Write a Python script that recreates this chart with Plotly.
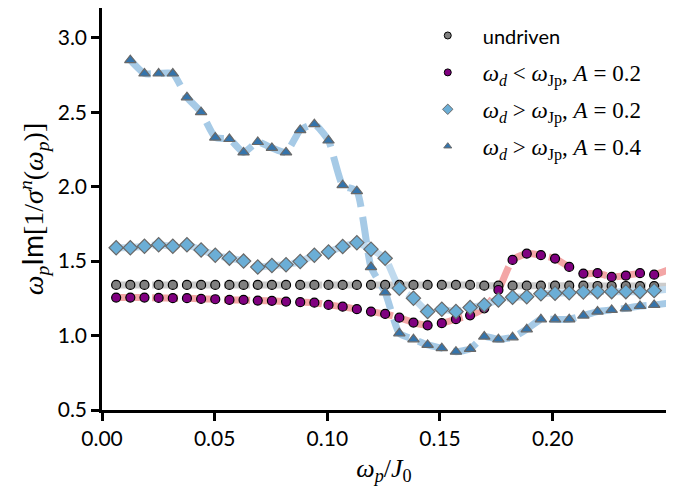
import plotly.graph_objects as go

# omega_p / J0 grid
x_vals = [0.00628, 0.01257, 0.01885, 0.02513, 0.03142, 0.03770, 0.04398, 0.05027,
          0.05655, 0.06283, 0.06912, 0.07540, 0.08168, 0.08796, 0.09425, 0.10053,
          0.10681, 0.11310, 0.11938, 0.12566, 0.13195, 0.13823, 0.14451, 0.15080,
          0.15708, 0.16336, 0.16965, 0.17593, 0.18221, 0.18850, 0.19478, 0.20106,
          0.20735, 0.21363, 0.21991, 0.22619, 0.23248, 0.23876, 0.24504, 0.25133]

undriven = [1.34] * 26 + [1.335, 1.335, 1.335, 1.335, 1.335, 1.335, 1.335, 1.335,
                          1.333, 1.333, 1.333, 1.332, 1.332, 1.331]

below_A02 = [1.255, 1.255, 1.255, 1.253, 1.251, 1.251, 1.246, 1.244, 1.239, 1.239,
             1.235, 1.233, 1.228, 1.224, 1.221, 1.206, 1.194, 1.177, 1.161, 1.145,
             1.120, 1.087, 1.069, 1.083, 1.110, 1.136, 1.183, 1.306, 1.508, 1.550,
             1.540, 1.517, 1.461, 1.416, 1.419, 1.394, 1.403, 1.419, 1.409, 1.441]

above_A02 = [1.59, 1.59, 1.60, 1.61, 1.60, 1.61, 1.575, 1.54, 1.52, 1.50,
             1.46, 1.47, 1.476, 1.497, 1.540, 1.562, 1.598, 1.624, 1.580, 1.519,
             1.318, 1.251, 1.161, 1.177, 1.161, 1.188, 1.206, 1.239, 1.257, 1.261,
             1.280, 1.284, 1.288, 1.293, 1.295, 1.295, 1.295, 1.295, 1.302, 1.311]

x_tri = x_vals[1:]
above_A04 = [2.85, 2.76, 2.76, 2.76, 2.60, 2.50, 2.33, 2.32, 2.23, 2.30, 2.26, 2.23,
             2.38, 2.42, 2.31, 2.01, 1.97, 1.46, 1.29, 1.015, 0.975, 0.937, 0.915,
             0.892, 0.910, 0.993, 0.975, 0.988, 1.042, 1.109, 1.109, 1.109, 1.134,
             1.161, 1.172, 1.183, 1.199, 1.206, 1.217]

SERIF = "Liberation Serif"
SANS = "Lato"

names = ["<span style=\"font-family:Lato;font-size:20px\">undriven</span>",
         "<i>ω</i><sub><i>d</i></sub> &lt; <i>ω</i><sub>Jp</sub>, <i>A</i> = 0.2",
         "<i>ω</i><sub><i>d</i></sub> &gt; <i>ω</i><sub>Jp</sub>, <i>A</i> = 0.2",
         "<i>ω</i><sub><i>d</i></sub> &gt; <i>ω</i><sub>Jp</sub>, <i>A</i> = 0.4"]

series = [
    dict(x=x_vals, y=undriven, line="rgb(204,204,204)", fill="rgb(128,128,128)",
         edge="black", symbol="circle", size=9, lsize=7),
    dict(x=x_vals, y=below_A02, line="rgb(243,166,166)", fill="rgb(128,0,128)",
         edge="black", symbol="circle", size=9, lsize=7),
    dict(x=x_vals, y=above_A02, line="rgb(192,218,238)", fill="rgb(107,174,214)",
         edge="rgb(105,105,105)", symbol="diamond", size=11, lsize=8),
    dict(x=x_tri, y=above_A04, line="rgb(166,202,230)", fill="rgb(52,116,172)",
         edge="rgb(105,105,105)", symbol="triangle-up", size=10, lsize=7),
]

fig = go.Figure()

for s in series:
    fig.add_trace(go.Scatter(
        x=s["x"], y=s["y"], mode="lines", showlegend=False, hoverinfo="skip",
        line=dict(color=s["line"], width=7, dash="26px,10px", shape="spline", smoothing=0.5),
    ))

for s in series:
    fig.add_trace(go.Scatter(
        x=s["x"], y=s["y"], mode="markers", showlegend=False, cliponaxis=False,
        marker=dict(symbol=s["symbol"], size=s["size"], color=s["fill"],
                    line=dict(color=s["edge"], width=1.2)),
    ))

for i, (s, nm) in enumerate(zip(series, names)):
    fig.add_trace(go.Scatter(
        x=[None], y=[None], mode="markers", name=nm, legendgroup=f"g{i}",
        marker=dict(symbol=s["symbol"], size=s["lsize"], color=s["fill"],
                    line=dict(color=s["edge"], width=1)),
    ))

# page body adds an 8px offset, so the figure is 666x481
fig.update_layout(
    width=666, height=481,
    margin=dict(l=94, r=8, t=0, b=79),
    plot_bgcolor="white", paper_bgcolor="white",
    font=dict(family=SANS, size=20, color="black"),
    showlegend=True,
    legend=dict(x=0.551, y=0.985, xanchor="left", yanchor="top",
                bgcolor="rgba(0,0,0,0)", font=dict(family=SERIF, size=23),
                tracegroupgap=4, itemwidth=60),
    xaxis=dict(
        range=[0, 0.2503], tickvals=[0, 0.05, 0.10, 0.15, 0.20],
        ticktext=["0.00", "0.05", "0.10", "0.15", "0.20"],
        showgrid=False, zeroline=False, showline=True, linecolor="black", linewidth=2.5,
        ticks="outside", ticklen=8, tickwidth=2.5, tickcolor="black",
        tickfont=dict(family=SANS, size=21),
        title=dict(text="<i>ω</i><sub><i>p</i></sub>/<i>J</i><sub>0</sub>",
                   font=dict(family=SERIF, size=26), standoff=10),
    ),
    yaxis=dict(
        range=[0.5, 3.2], tickvals=[0.5, 1.0, 1.5, 2.0, 2.5, 3.0],
        ticktext=["0.5", "1.0", "1.5", "2.0", "2.5", "3.0"],
        showgrid=False, zeroline=False, showline=True, linecolor="black", linewidth=2.5,
        ticks="outside", ticklen=8, tickwidth=2.5, tickcolor="black",
        tickfont=dict(family=SANS, size=21),
        title=dict(text=("<i>ω</i><sub><i>p</i></sub>"
                         "<span style=\"font-family:Lato\">Im</span>"
                         "[1/<i>σ</i><sup><i>n</i></sup>(<i>ω</i><sub><i>p</i></sub>)]"),
                   font=dict(family=SERIF, size=28), standoff=6),
    ),
)

fig.write_html("out.html")
